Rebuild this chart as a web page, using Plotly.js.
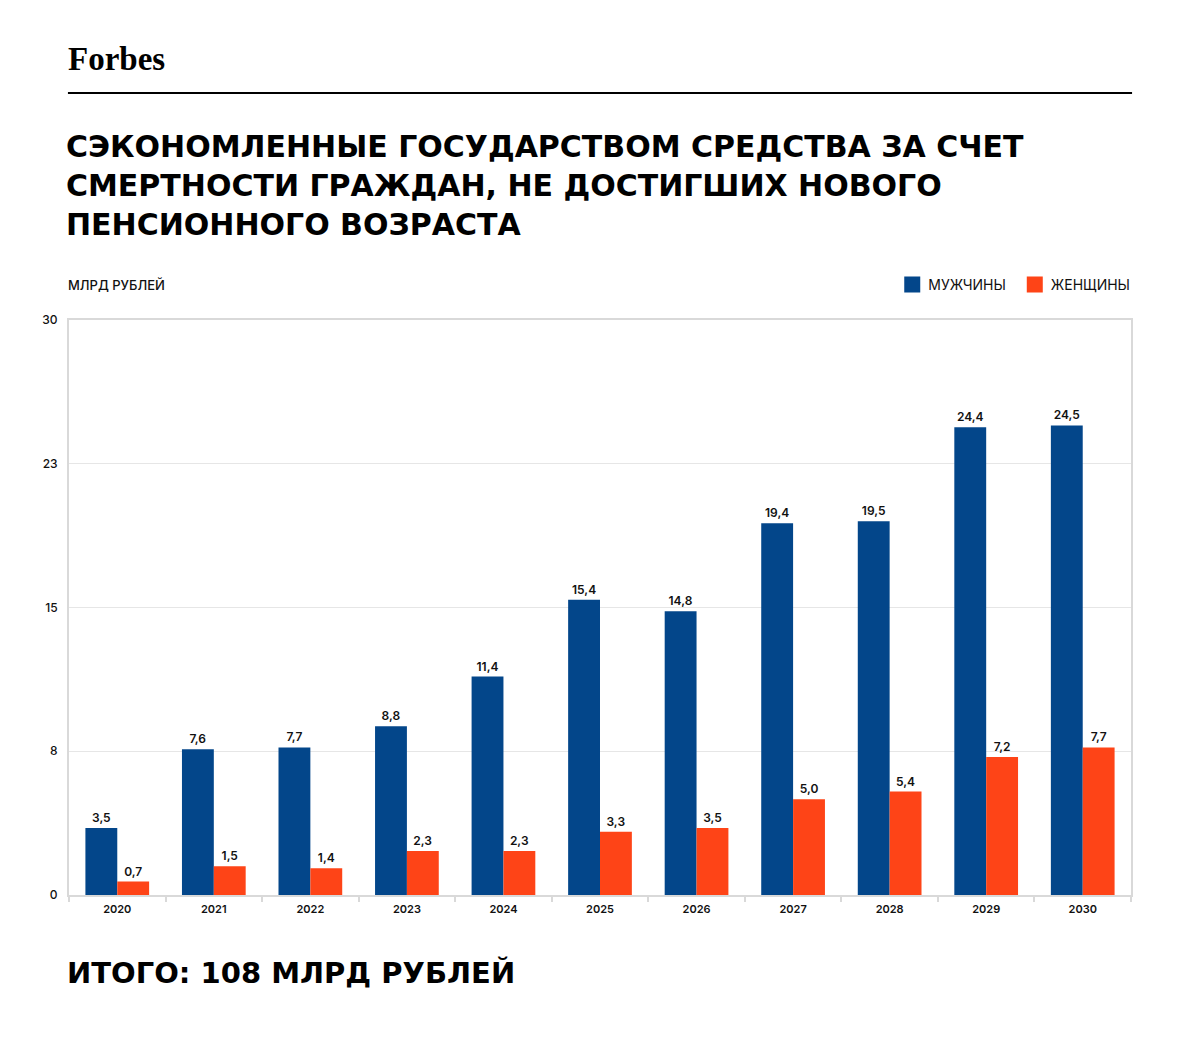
<!DOCTYPE html>
<html>
<head>
<meta charset="utf-8">
<script src="https://cdn.plot.ly/plotly-3.0.1.min.js"></script>
<style>
  html, body { margin: 0; padding: 0; background: #fff; }
  #chart { width: 1200px; height: 1042px; }
</style>
</head>
<body>
<div id="chart"></div>
<script>
const years = ['2020','2021','2022','2023','2024','2025','2026','2027','2028','2029','2030'];
const men   = [3.5, 7.6, 7.7, 8.8, 11.4, 15.4, 14.8, 19.4, 19.5, 24.4, 24.5];
const women = [0.7, 1.5, 1.4, 2.3, 2.3, 3.3, 3.5, 5.0, 5.4, 7.2, 7.7];
const yTickVals = [0, 7.5, 15, 22.5, 30];
const yTickText = ['0', '8', '15', '23', '30'];
const seriesNames = ['МУЖЧИНЫ', 'ЖЕНЩИНЫ'];
const titleText = 'СЭКОНОМЛЕННЫЕ ГОСУДАРСТВОМ СРЕДСТВА ЗА СЧЕТ<br>СМЕРТНОСТИ ГРАЖДАН, НЕ ДОСТИГШИХ НОВОГО<br>ПЕНСИОННОГО ВОЗРАСТА';
const unitText = 'МЛРД РУБЛЕЙ';
const totalText = 'ИТОГО: 108 МЛРД РУБЛЕЙ';

const labelFont = {family: 'Inter, "Liberation Sans", sans-serif', size: 12, color: '#111', weight: 600};

const traces = [
  {
    type: 'bar', name: seriesNames[0], x: years, y: men,
    marker: {color: '#03468a'},
    text: men, texttemplate: '%{y:.1f}', textposition: 'outside',
    textfont: labelFont, cliponaxis: false, hoverinfo: 'skip'
  },
  {
    type: 'bar', name: seriesNames[1], x: years, y: women,
    marker: {color: '#fe4417'},
    text: women, texttemplate: '%{y:.1f}', textposition: 'outside',
    textfont: labelFont, cliponaxis: false, hoverinfo: 'skip'
  }
];

const layout = {
  width: 1200, height: 1042,
  margin: {l: 69, r: 69, t: 320, b: 147},
  paper_bgcolor: '#fff', plot_bgcolor: '#fff',
  separators: ', ',
  barmode: 'group', bargap: 0.34, bargroupgap: 0,
  font: {family: 'Inter, "Liberation Sans", sans-serif', color: '#111'},
  title: {
    text: titleText,
    x: 66/1200, xref: 'container', xanchor: 'left',
    y: 1 - 157/1042, yref: 'container', yanchor: 'top',
    font: {family: '"DejaVu Sans", sans-serif', size: 30, weight: 'bold', color: '#000'}
  },
  xaxis: {
    type: 'category',
    tickson: 'boundaries', ticks: 'outside', ticklen: 5, tickwidth: 2, tickcolor: '#d9d9d9',
    ticklabelstandoff: 3,
    showline: true, linecolor: '#d9d9d9', linewidth: 2, mirror: true,
    showgrid: false, zeroline: false,
    tickfont: {family: 'Inter, "Liberation Sans", sans-serif', size: 11, color: '#111', weight: 600}
  },
  yaxis: {
    range: [0, 30], tickmode: 'array', tickvals: yTickVals, ticktext: yTickText,
    ticks: 'outside', ticklen: 7, tickcolor: 'rgba(0,0,0,0)',
    showline: true, linecolor: '#d9d9d9', linewidth: 2, mirror: true,
    showgrid: true, gridcolor: '#e6e6e6', gridwidth: 1, zeroline: false,
    tickfont: {family: 'Inter, "Liberation Sans", sans-serif', size: 12, color: '#111', weight: 500}
  },
  showlegend: true,
  legend: {
    orientation: 'h', x: 1.004, xanchor: 'right', xref: 'paper',
    y: 1 - 285/1042, yref: 'container', yanchor: 'middle',
    font: {family: 'Inter, "Liberation Sans", sans-serif', size: 14, color: '#111'},
    itemclick: false, itemdoubleclick: false, traceorder: 'normal',
    itemwidth: 30, tracegroupgap: 0
  },
  shapes: [
    {type: 'line', xref: 'paper', yref: 'paper', x0: -0.001, x1: 1.001,
     y0: 1 + (320-93)/575, y1: 1 + (320-93)/575, line: {color: '#000', width: 2}}
  ],
  annotations: [
    {text: '<b>Forbes</b>', xref: 'paper', yref: 'paper', x: -0.003, xanchor: 'left',
     y: 1 + (320-59)/575, yanchor: 'middle', showarrow: false,
     font: {family: '"Liberation Serif", "DejaVu Serif", serif', size: 33, color: '#000'}},
    {text: unitText, xref: 'paper', yref: 'paper', x: -0.003, xanchor: 'left',
     y: 1 + (320-285)/575, yanchor: 'middle', showarrow: false,
     font: {family: 'Inter, "Liberation Sans", sans-serif', size: 13, color: '#111', weight: 500}},
    {text: totalText, xref: 'paper', yref: 'paper', x: -0.004, xanchor: 'left',
     y: 1 - (973-320)/575, yanchor: 'middle', showarrow: false,
     font: {family: '"DejaVu Sans", sans-serif', size: 29, weight: 'bold', color: '#000'}}
  ]
};

Plotly.newPlot('chart', traces, layout, {displayModeBar: false, staticPlot: true}).then(function (gd) {
  // enlarge legend swatches to match the reference's 16px squares
  gd.querySelectorAll('.legend .legendpoints path').forEach(function (p) {
    p.setAttribute('d', 'M12,8H-4V-8H12Z');
  });
});
</script>
</body>
</html>
